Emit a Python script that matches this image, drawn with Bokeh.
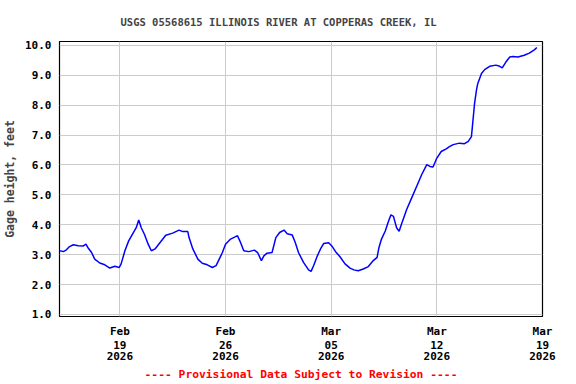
import pandas as pd
from bokeh.plotting import figure
from bokeh.models import FixedTicker, DatetimeTickFormatter, DatetimeAxis, Range1d, Title
from bokeh.embed import file_html
from bokeh.resources import INLINE

# Gage height readings
times = [
    "2026-02-15 01:00", "2026-02-15 06:00", "2026-02-15 11:00", "2026-02-15 16:00", "2026-02-15 22:00",
    "2026-02-16 06:00", "2026-02-16 14:00", "2026-02-16 18:00", "2026-02-16 21:00", "2026-02-17 03:00",
    "2026-02-17 08:00", "2026-02-17 16:00", "2026-02-18 00:00", "2026-02-18 08:00", "2026-02-18 16:00",
    "2026-02-18 23:00", "2026-02-19 02:00", "2026-02-19 08:00", "2026-02-19 14:00", "2026-02-19 21:00",
    "2026-02-20 02:00", "2026-02-20 06:00", "2026-02-20 10:00", "2026-02-20 15:00", "2026-02-20 21:00",
    "2026-02-21 02:00", "2026-02-21 08:00", "2026-02-21 15:00", "2026-02-22 01:00", "2026-02-22 12:00",
    "2026-02-22 22:00", "2026-02-23 04:00", "2026-02-23 12:00", "2026-02-23 14:00", "2026-02-23 20:00",
    "2026-02-24 04:00", "2026-02-24 11:00", "2026-02-24 19:00", "2026-02-25 03:00", "2026-02-25 09:00",
    "2026-02-25 14:00", "2026-02-25 19:00", "2026-02-26 00:00", "2026-02-26 08:00", "2026-02-26 16:00",
    "2026-02-26 19:00", "2026-02-27 00:00", "2026-02-27 05:00", "2026-02-27 13:00", "2026-02-27 22:00",
    "2026-02-28 03:00", "2026-02-28 09:00", "2026-02-28 13:00", "2026-02-28 18:00", "2026-03-01 02:00",
    "2026-03-01 08:00", "2026-03-01 14:00", "2026-03-01 21:00", "2026-03-02 02:00", "2026-03-02 10:00",
    "2026-03-02 15:00", "2026-03-02 20:00", "2026-03-03 04:00", "2026-03-03 12:00", "2026-03-03 16:00",
    "2026-03-03 20:00", "2026-03-04 02:00", "2026-03-04 07:00", "2026-03-04 12:00", "2026-03-04 20:00",
    "2026-03-05 01:00", "2026-03-05 07:00", "2026-03-05 14:00", "2026-03-05 22:00", "2026-03-06 06:00",
    "2026-03-06 12:00", "2026-03-06 19:00", "2026-03-07 03:00", "2026-03-07 11:00", "2026-03-07 19:00",
    "2026-03-08 01:00", "2026-03-08 04:00", "2026-03-08 08:00", "2026-03-08 14:00", "2026-03-08 19:00",
    "2026-03-08 23:00", "2026-03-09 03:00", "2026-03-09 08:00", "2026-03-09 12:00", "2026-03-09 16:00",
    "2026-03-10 00:00", "2026-03-10 08:00", "2026-03-10 16:00", "2026-03-11 00:00", "2026-03-11 08:00",
    "2026-03-11 13:00", "2026-03-11 18:00", "2026-03-12 00:00", "2026-03-12 07:00", "2026-03-12 15:00",
    "2026-03-12 20:00", "2026-03-13 02:00", "2026-03-13 12:00", "2026-03-13 20:00", "2026-03-14 02:00",
    "2026-03-14 07:00", "2026-03-14 09:00", "2026-03-14 12:00", "2026-03-14 15:00", "2026-03-14 17:00",
    "2026-03-14 23:00", "2026-03-15 04:00", "2026-03-15 12:00", "2026-03-15 22:00", "2026-03-16 04:00",
    "2026-03-16 08:00", "2026-03-16 14:00", "2026-03-16 20:00", "2026-03-17 01:00", "2026-03-17 09:00",
    "2026-03-17 19:00", "2026-03-18 03:00", "2026-03-18 11:00", "2026-03-18 15:00",
]
gage_height_ft = [
    3.13, 3.10, 3.16, 3.27, 3.33,
    3.30, 3.29, 3.35, 3.24, 3.07,
    2.85, 2.72, 2.66, 2.55, 2.61,
    2.57, 2.69, 3.13, 3.46, 3.72,
    3.90, 4.16, 3.90, 3.68, 3.35,
    3.13, 3.19, 3.38, 3.65, 3.72,
    3.82, 3.77, 3.77, 3.57, 3.19,
    2.85, 2.71, 2.66, 2.57, 2.63,
    2.85, 3.07, 3.35, 3.52, 3.60,
    3.63, 3.40, 3.13, 3.10, 3.15,
    3.07, 2.80, 2.96, 3.05, 3.07,
    3.57, 3.74, 3.82, 3.70, 3.66,
    3.40, 3.07, 2.74, 2.49, 2.44,
    2.63, 2.96, 3.19, 3.37, 3.40,
    3.29, 3.10, 2.93, 2.69, 2.55,
    2.49, 2.46, 2.52, 2.60, 2.80,
    2.91, 3.24, 3.52, 3.79, 4.11,
    4.33, 4.28, 3.90, 3.78, 4.03,
    4.51, 4.90, 5.29, 5.68, 6.01,
    5.95, 5.93, 6.23, 6.45, 6.54,
    6.61, 6.68, 6.73, 6.71, 6.79,
    6.95, 7.39, 8.06, 8.50, 8.72,
    9.06, 9.19, 9.30, 9.34, 9.30,
    9.25, 9.45, 9.61, 9.63, 9.61,
    9.67, 9.74, 9.85, 9.93,
]
x_start = "2026-02-15 00:00"
x_end = "2026-03-19 00:00"
tick_dates = ["2026-02-19", "2026-02-26", "2026-03-05", "2026-03-12", "2026-03-19"]
y_ticks = [1, 2, 3, 4, 5, 6, 7, 8, 9, 10]

title_text = "USGS 05568615 ILLINOIS RIVER AT COPPERAS CREEK, IL"
y_label = "Gage height, feet"
footer_text = "---- Provisional Data Subject to Revision ----"

FONT = "DejaVu Sans Mono"

t = pd.to_datetime(times)
t0 = pd.Timestamp(x_start)
t1 = pd.Timestamp(x_end)

p = figure(width=576, height=384, output_backend="svg", toolbar_location=None,
           x_axis_type="datetime",
           x_range=Range1d(t0, t1), y_range=Range1d(0.93, 10.13),
           min_border_left=58, min_border_right=34, min_border_top=40, min_border_bottom=68)

p.line(t, gage_height_ft, line_color="#0000FF", line_width=1.5)

# title
p.title.text = title_text
p.title.text_font = FONT
p.title.text_font_size = "10.5px"
p.title.text_font_style = "bold"
p.title.align = "left"
p.title.offset = 61
p.title.standoff = 27

# frame
p.outline_line_color = "black"
p.outline_line_width = 1.2
p.background_fill_color = "white"
p.border_fill_color = "white"

# grids
for g in (p.xgrid, p.ygrid):
    g.grid_line_color = "#cccccc"
    g.grid_line_width = 1

tick_ms = [pd.Timestamp(d).value / 1e6 for d in tick_dates]


def dt_fmt(f):
    return DatetimeTickFormatter(
        microseconds=f, milliseconds=f, seconds=f, minsec=f, minutes=f,
        hourmin=f, hours=f, days=f, months=f, years=f)


def style_axis(ax, standoff):
    ax.axis_line_color = None
    ax.major_tick_line_color = None
    ax.minor_tick_line_color = None
    ax.major_tick_out = 0
    ax.major_tick_in = 0
    ax.minor_tick_out = 0
    ax.minor_tick_in = 0
    ax.major_label_text_font = FONT
    ax.major_label_text_font_size = "11px"
    ax.major_label_text_font_style = "bold"
    ax.major_label_text_color = "black"
    ax.major_label_standoff = standoff
    ax.axis_label_text_font = FONT
    ax.axis_label_text_font_size = "11.5px"
    ax.axis_label_text_font_style = "bold"


# x axis: month / day / year lines
xa = p.xaxis[0]
xa.ticker = FixedTicker(ticks=tick_ms)
xa.formatter = dt_fmt("%b")
style_axis(xa, 8)

xa2 = DatetimeAxis(ticker=FixedTicker(ticks=tick_ms), formatter=dt_fmt("%d"))
style_axis(xa2, 0)
p.add_layout(xa2, "below")

xa3 = DatetimeAxis(ticker=FixedTicker(ticks=tick_ms), formatter=dt_fmt("%Y"))
style_axis(xa3, 0)
p.add_layout(xa3, "below")

# y axis
ya = p.yaxis[0]
ya.ticker = FixedTicker(ticks=y_ticks)
ya.major_label_overrides = {v: f"{v:.1f}" for v in y_ticks}
ya.axis_label = y_label
style_axis(ya, 8)
ya.axis_label_standoff = 5

# footer
footer = Title(text=footer_text, align="center", text_color="#FF0000",
               text_font=FONT, text_font_size="11.3px", text_font_style="bold",
               standoff=7)
p.add_layout(footer, "below")

open("out.html", "w").write(file_html(p, INLINE))
